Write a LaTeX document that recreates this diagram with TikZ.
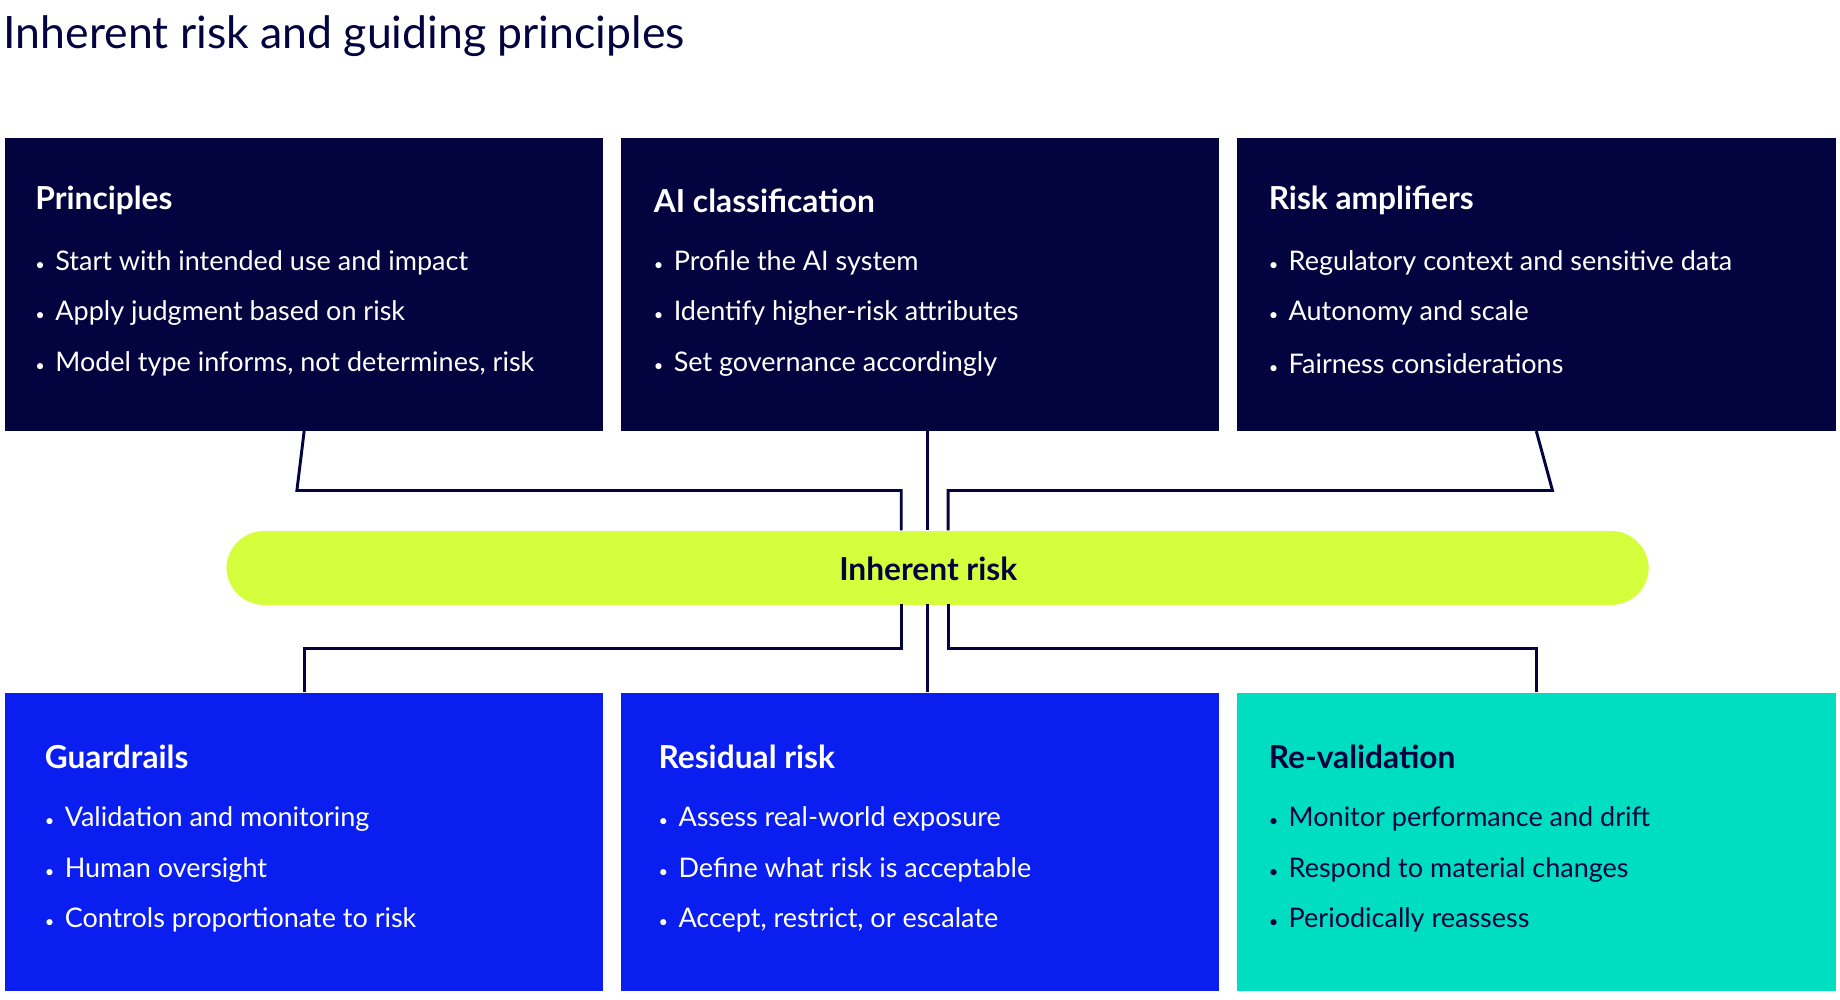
\documentclass[tikz,border=0pt]{standalone}
\usepackage{fontspec}
\setmainfont{Lato}
\usetikzlibrary{positioning}
\definecolor{navy}{HTML}{03033F}
\definecolor{royal}{HTML}{0A1EF0}
\definecolor{teal}{HTML}{00DEC2}
\definecolor{lime}{HTML}{D5FF3D}
\newcommand{\bul}[1]{\makebox[17pt][l]{\fontsize{14}{14}\selectfont\textbullet}#1}

\begin{document}
\begin{tikzpicture}[x=1pt,y=-1pt,
	box/.style={anchor=north west,minimum width=510pt,minimum height=250pt,inner sep=0pt,draw=none},
	head/.style={anchor=west,inner sep=0pt,font=\fontsize{27}{30}\selectfont\bfseries},
	item/.style={anchor=west,inner sep=0pt,font=\fontsize{23}{26}\selectfont},
	link/.style={draw=navy,line width=2.5pt}]

\useasboundingbox (0,0) rectangle (1568,852);
\node[anchor=west,inner sep=0pt,text=navy,font=\fontsize{38}{42}\selectfont] (title) at (3,31) {Inherent risk and guiding principles};

% top row
\node[box,fill=navy] (prin) at (4,117) {};
\node[box,fill=navy] (class) at (529,117) {};
\node[box,fill=navy] (amp) at (1054,117) {};
% bottom row
\node[box,fill=royal,minimum height=254pt] (guard) at (4,590) {};
\node[box,fill=royal,minimum height=254pt] (resid) at (529,590) {};
\node[box,fill=teal,minimum height=254pt] (reval) at (1054,590) {};

\node[fill=lime,rounded corners=32pt,minimum width=1212pt,minimum height=63pt,inner sep=0pt] (inh) at (799,484) {};
\node[text=navy,font=\fontsize{27}{30}\selectfont\bfseries] (inhlabel) at (791,485) {Inherent risk};

% texts
\begin{scope}[text=white]
\node[head] (prinhead) at (30,171) {Principles};
\node[item] (prin1) at (30,224) {\bul{Start with intended use and impact}};
\node[item] (prin2) at (30,267) {\bul{Apply judgment based on risk}};
\node[item] (prin3) at (30,310) {\bul{Model type informs, not determines, risk}};

\node[head] (classhead) at (557,171) {AI classification};
\node[item] (class1) at (557,224) {\bul{Profile the AI system}};
\node[item] (class2) at (557,267) {\bul{Identify higher-risk attributes}};
\node[item] (class3) at (557,310) {\bul{Set governance accordingly}};

\node[head] (amphead) at (1081,171) {Risk amplifiers};
\node[item] (amp1) at (1081,224) {\bul{Regulatory context and sensitive data}};
\node[item] (amp2) at (1081,267) {\bul{Autonomy and scale}};
\node[item] (amp3) at (1081,310) {\bul{Fairness considerations}};

\node[head] (guardhead) at (38,645) {Guardrails};
\node[item] (guard1) at (38,698) {\bul{Validation and monitoring}};
\node[item] (guard2) at (38,741) {\bul{Human oversight}};
\node[item] (guard3) at (38,784) {\bul{Controls proportionate to risk}};

\node[head] (residhead) at (561,645) {Residual risk};
\node[item] (resid1) at (561,698) {\bul{Assess real-world exposure}};
\node[item] (resid2) at (561,741) {\bul{Define what risk is acceptable}};
\node[item] (resid3) at (561,784) {\bul{Accept, restrict, or escalate}};
\end{scope}

\begin{scope}[text=navy]
\node[head] (revalhead) at (1081,645) {Re-validation};
\node[item] (reval1) at (1081,698) {\bul{Monitor performance and drift}};
\node[item] (reval2) at (1081,741) {\bul{Respond to material changes}};
\node[item] (reval3) at (1081,784) {\bul{Periodically reassess}};
\end{scope}

% connectors
\coordinate (inl) at (768,452);
\coordinate (inr) at (808,452);
\coordinate (outl) at (768,515);
\coordinate (outr) at (808,515);
\draw[link] (prin.south) -- (253,418) -| (inl);
\draw[link] (class.south -| 790,0) -- (790,452);
\draw[link] (amp.south) -- (1323,418) -| (inr);
\draw[link] (outl) -- (768,553) -| (guard.north);
\draw[link] (790,515) -- (resid.north -| 790,0);
\draw[link] (outr) -- (808,553) -| (reval.north);

\end{tikzpicture}
\end{document}
